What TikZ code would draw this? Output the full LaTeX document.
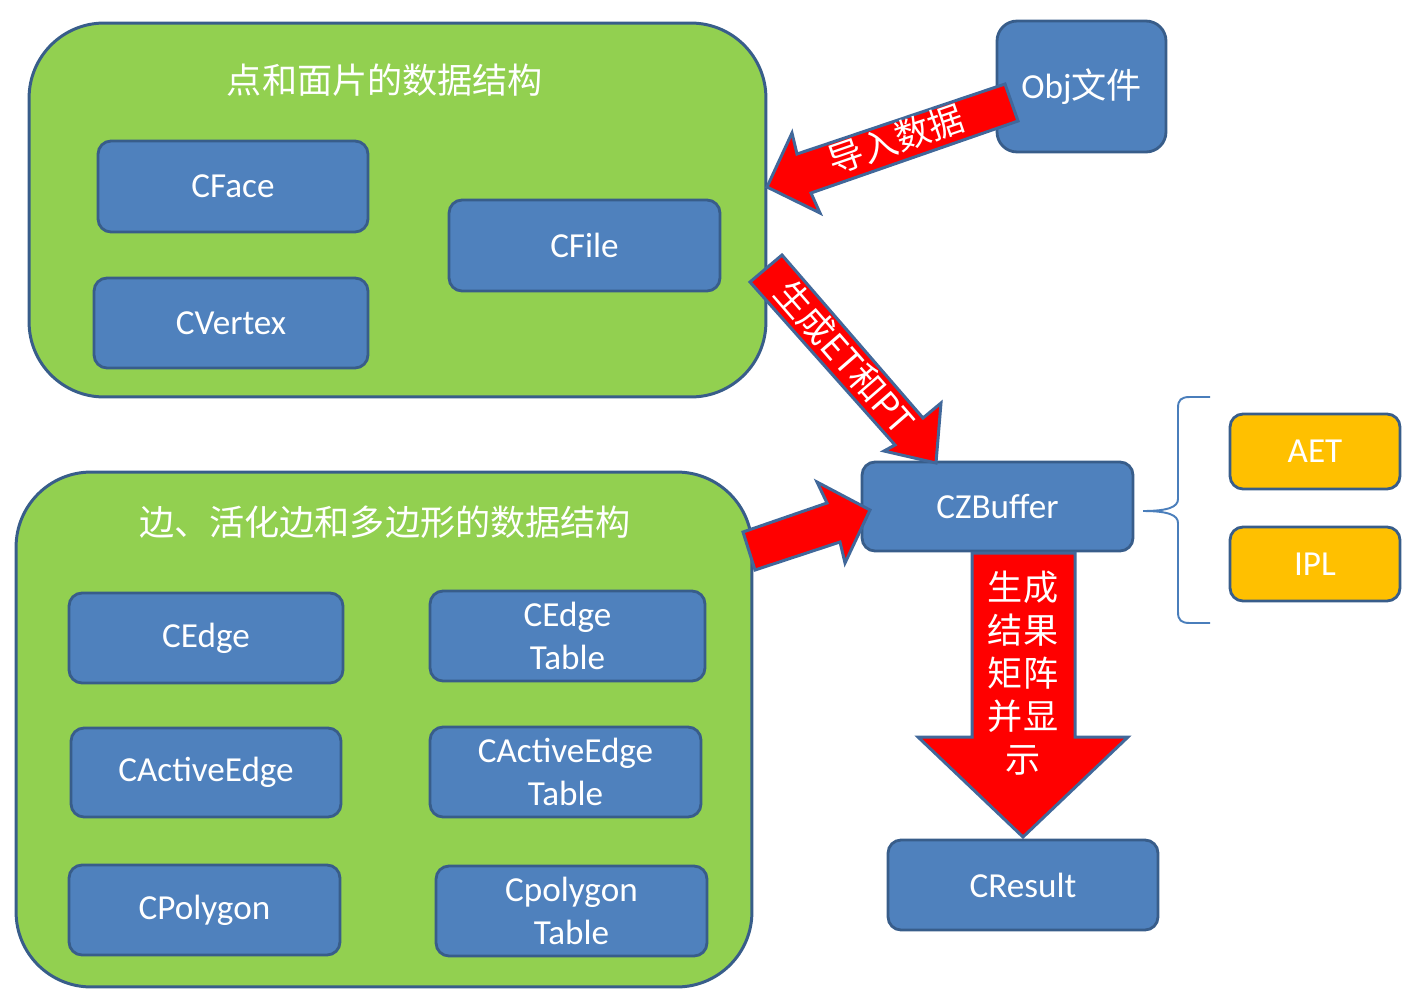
\documentclass[tikz,border=0pt]{standalone}
\usepackage{fontspec}
\setmainfont{Carlito}
\newfontfamily\cjk{Noto Sans CJK SC}
\definecolor{boxblue}{HTML}{4F81BD}
\definecolor{boxedge}{HTML}{385D8A}
\definecolor{grn}{HTML}{92D050}
\definecolor{orng}{HTML}{FFC000}
\definecolor{arredge}{HTML}{41689A}
\definecolor{bracecol}{HTML}{4A7EBB}
\begin{document}
\begin{tikzpicture}[x=0.02cm,y=-0.02cm,
  greenbox/.style={draw=boxedge,line width=1.7pt,fill=grn,rounded corners=1.5cm,rectangle},
  bluebox/.style={draw=boxedge,line width=1.6pt,fill=boxblue,rounded corners=0.26cm,rectangle,
    text=white,font=\fontsize{20pt}{24pt}\selectfont,align=center},
  orangebox/.style={draw=boxedge,line width=1.6pt,fill=orng,rounded corners=0.26cm,rectangle,
    text=white,font=\fontsize{20pt}{24pt}\selectfont},
  title/.style={text=white,font=\cjk\fontsize{20pt}{24pt}\selectfont},
  blockarrow/.style={draw=arredge,line width=1.7pt,fill=red},
  arrtext/.style={text=white,font=\cjk\fontsize{20pt}{24.4pt}\selectfont,align=center,inner sep=0pt}]
\useasboundingbox (0,0) rectangle (1417,1001);

% green containers
\node[greenbox,minimum width=14.74cm,minimum height=7.48cm] (gtop) at (397.5,210) {};
\node[greenbox,minimum width=14.72cm,minimum height=10.3cm] (gbot) at (384,729.5) {};
\node[title] (ttop) at (385,80) {点和面片的数据结构};
\node[title] (tbot) at (385,522) {边、活化边和多边形的数据结构};

% blue boxes in containers
\node[bluebox,minimum width=5.4cm,minimum height=1.82cm] (cface) at (233,186.5) {CFace};
\node[bluebox,minimum width=5.42cm,minimum height=1.82cm] (cfile) at (584.5,245.5) {CFile};
\node[bluebox,minimum width=5.48cm,minimum height=1.8cm] (cvertex) at (231,323) {CVertex};
\node[bluebox,minimum width=5.48cm,minimum height=1.8cm] (cedge) at (206,638) {CEdge};
\node[bluebox,minimum width=5.5cm,minimum height=1.8cm] (cedgetab) at (567.5,636) {CEdge\\Table};
\node[bluebox,minimum width=5.4cm,minimum height=1.78cm] (cae) at (206,772.5) {CActiveEdge};
\node[bluebox,minimum width=5.42cm,minimum height=1.8cm] (caetab) at (565.5,772) {CActiveEdge\\Table};
\node[bluebox,minimum width=5.42cm,minimum height=1.8cm] (cpoly) at (204.5,910) {CPolygon};
\node[bluebox,minimum width=5.42cm,minimum height=1.8cm] (cpolytab) at (571.5,911) {Cpolygon\\Table};

% other boxes
\node[bluebox,rounded corners=0.4cm,minimum width=3.38cm,minimum height=2.62cm] (obj) at (1081.5,86.5) {Obj{\cjk 文件}};
\node[bluebox,minimum width=5.42cm,minimum height=1.78cm] (czb) at (997.5,506.5) {CZBuffer};
\node[bluebox,minimum width=5.4cm,minimum height=1.8cm] (cres) at (1023,885) {CResult};
\node[orangebox,minimum width=3.4cm,minimum height=1.5cm] (aet) at (1315,451.5) {AET};
\node[orangebox,minimum width=3.4cm,minimum height=1.48cm] (ipl) at (1315,564) {IPL};

% brace
\coordinate (bracetip) at (1143,511);
\draw[bracecol,line width=1.1pt] (1210,397) -- (1190,397) .. controls (1181,397) and (1178,400) .. (1178,408)
  -- (1178,499) .. controls (1178,507) and (1168,511) .. (bracetip)
  .. controls (1168,511) and (1178,515) .. (1178,523) -- (1178,612)
  .. controls (1178,620) and (1181,623) .. (1190,623) -- (1210,623);

% block arrows
\draw[blockarrow] (767,187) -- (792,133) -- (797,154) -- (1005,84) -- (1018,121) -- (811,193) -- (820,213) -- cycle;
\node[arrtext,rotate=19] (t1) at (896,139) {导入数据};

\draw[blockarrow] (750,282) -- (782,255) -- (923,418) -- (941,403) -- (936,463) -- (884,451) -- (895,445) -- cycle;
\node[arrtext,rotate=-49] (t2) at (845,357) {生成ET和PT};

\draw[blockarrow] (743,532) -- (827,503) -- (817,482) -- (870,510) -- (845,563) -- (840,542) -- (755,570) -- cycle;

\draw[blockarrow] (972,553) -- (1075,553) -- (1075,737) -- (1128,737) -- (1023,837) -- (918,737) -- (972,737) -- cycle;
\node[arrtext] (t4) at (1023,673) {生成\\结果\\矩阵\\并显\\示};
\end{tikzpicture}
\end{document}
